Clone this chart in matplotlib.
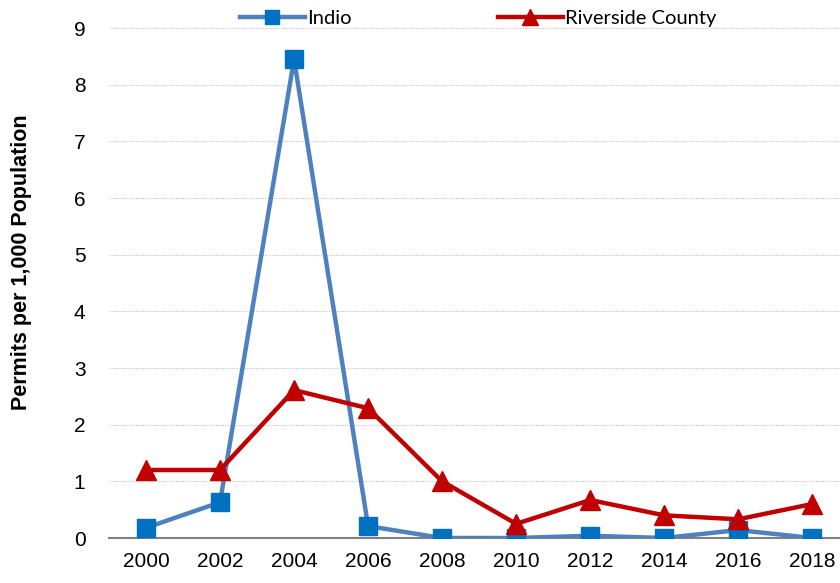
import matplotlib
matplotlib.use("Agg")
import matplotlib.pyplot as plt

years = [2000, 2002, 2004, 2006, 2008, 2010, 2012, 2014, 2016, 2018]
indio = [0.18, 0.63, 8.45, 0.21, 0.0, 0.0, 0.04, 0.0, 0.14, 0.0]
riverside = [1.2, 1.2, 2.61, 2.29, 1.0, 0.25, 0.67, 0.4, 0.33, 0.6]
yticks = list(range(0, 10))

narrow = ['Liberation Sans', 'DejaVu Sans']

fig = plt.figure(figsize=(8.4, 5.83), dpi=100)
ax = fig.add_axes([109 / 840, 45 / 583, 731 / 840, 510 / 583])

ax.plot(years, indio, color='#4F81BD', lw=3.2, marker='s', ms=13,
        mfc='#0070C0', mec='#0070C0', label='Indio', zorder=3)
ax.plot(years, riverside, color='#C00000', lw=3.2, marker='^', ms=14,
        mfc='#C00000', mec='#C00000', label='Riverside County', zorder=4)

ax.set_xlim(1999, 2018.75)
ax.set_ylim(0, 9)
ax.set_xticks(years)
ax.set_yticks(yticks)
ax.grid(axis='y', color='#C8C8C8', ls=(0, (1, 1)), lw=0.8)
ax.set_axisbelow(True)
for s in ['top', 'right', 'left']:
    ax.spines[s].set_visible(False)
ax.spines['bottom'].set_color('#808080')
ax.spines['bottom'].set_linewidth(1.5)
ax.spines['bottom'].set_zorder(2)
ax.tick_params(length=0, pad=10)
for lab in ax.get_xticklabels() + ax.get_yticklabels():
    lab.set_family(narrow)
    lab.set_fontsize(15)
ax.tick_params(axis='y', pad=17)
ax.set_ylabel('Permits per 1,000 Population', family=narrow, fontsize=15.5,
              fontweight='bold')
ax.yaxis.set_label_coords(-0.105, 0.54)

leg = ax.legend(loc='upper center', bbox_to_anchor=(0.505, 1.052), ncol=2,
                frameon=False, prop={'family': ['Lato', 'DejaVu Sans'], 'size': 14.5},
                handlelength=3.2, columnspacing=7.3, handletextpad=0.1,
                borderaxespad=0, markerscale=0.8)

fig.savefig('out.png', dpi=100)
